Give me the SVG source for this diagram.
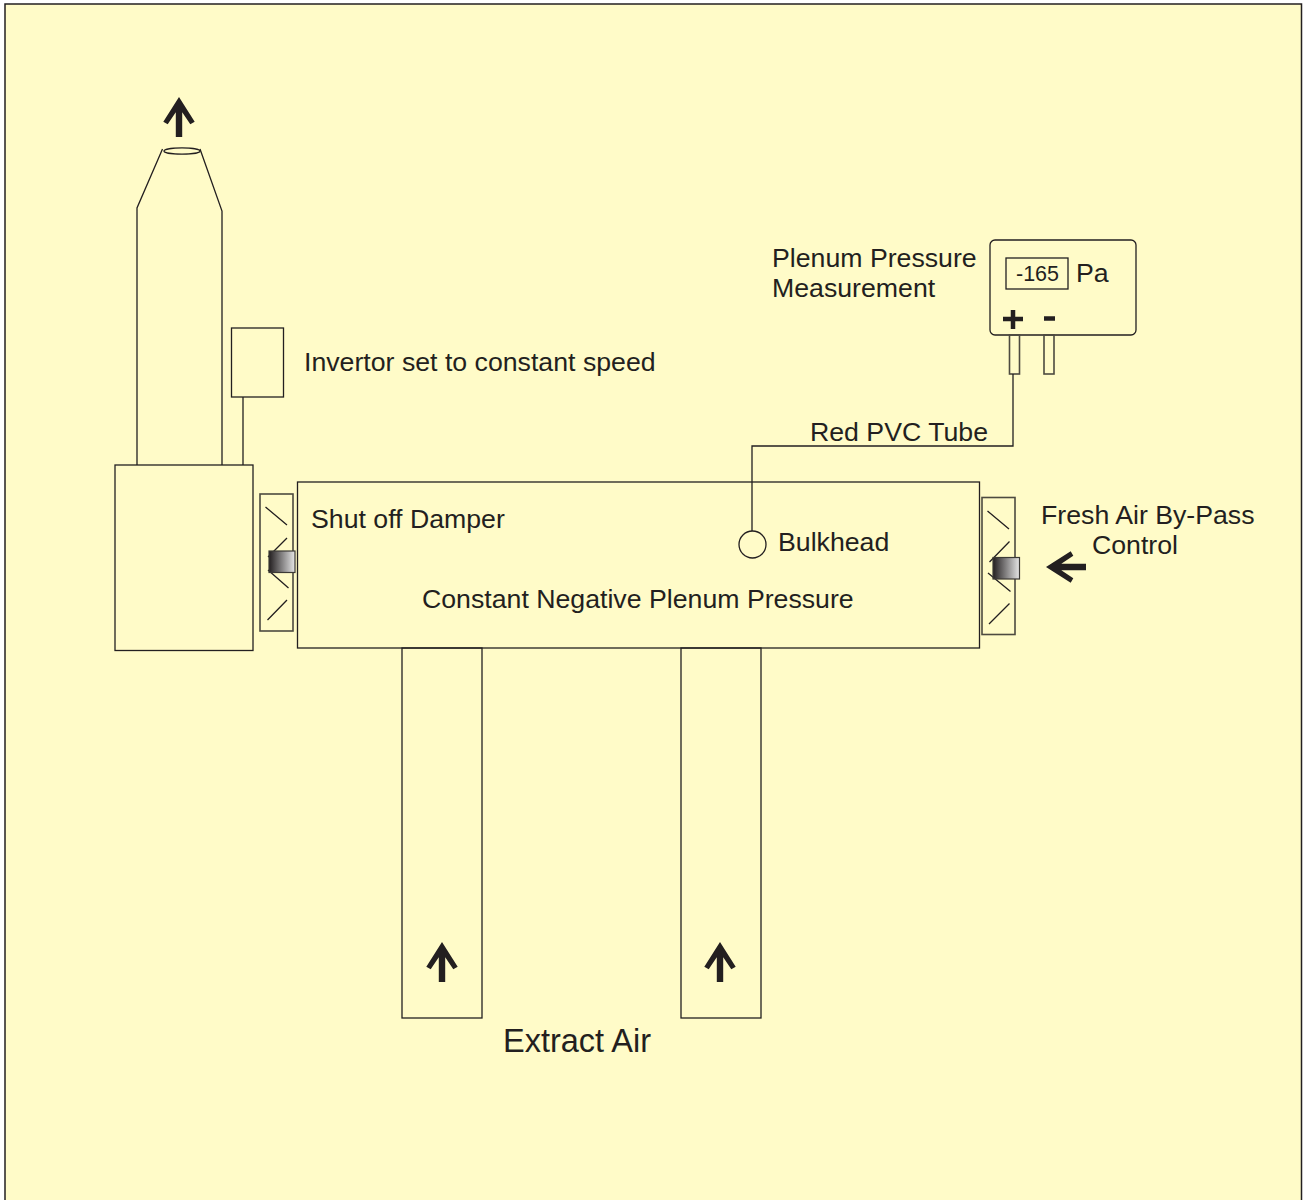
<svg xmlns="http://www.w3.org/2000/svg" width="1303" height="1200" viewBox="0 0 1303 1200">
<defs>
<linearGradient id="g" x1="0" x2="1" y1="0" y2="0"><stop offset="0" stop-color="#231f20"/><stop offset="1" stop-color="#e6e6e6"/></linearGradient>
<polygon id="arrow" points="0,-40 15.700,-15.300 11.300,-12.700 3.200,-24.700 3.200,0 -3.200,0 -3.200,-24.700 -11.300,-12.700 -15.700,-15.300" fill="#231f20"/>
</defs>
<style>
.l{fill:none;stroke:#231f20;stroke-width:1.3}
.k{fill:none;stroke:#4d4a40;stroke-width:1.6}
.knob{fill:url(#g);stroke:#3c3a36;stroke-width:1.2}
text{font-family:"Liberation Sans",Arial,sans-serif;font-size:26.7px;fill:#231f20}
</style>
<rect x="0" y="0" width="1303" height="1200" fill="#fff"/>
<rect id="frame" x="5" y="4" width="1296.500" height="1200" fill="#fffbc8" stroke="#231f20" stroke-width="1.500"/>
<g id="stack">
<path class="l" d="M137 465V208L162.500 149M200 149L222 211V465"/>
<ellipse class="l" cx="182" cy="151" rx="18" ry="3.200"/>
<use href="#arrow" x="179" y="137"/>
</g>
<g id="fan"><rect class="l" x="115" y="465" width="138" height="185.500"/></g>
<g id="invertor"><rect class="l" x="231.500" y="328" width="52" height="69"/><path class="l" d="M243 397V465"/>
<text x="304" y="371">Invertor set to constant speed</text></g>
<g id="shutoff-damper">
<rect class="k" x="260" y="494" width="33" height="137"/>
<path class="l" d="M265.500 507L287 525M287 538L268 557M268 570L288.500 588M287 600L267.500 620"/>
<rect class="knob" x="269" y="551" width="26" height="21.500"/>
<text x="311" y="528">Shut off Damper</text>
</g>
<g id="plenum">
<rect class="l" x="297.500" y="482" width="682" height="166"/>
<text x="422" y="608">Constant Negative Plenum Pressure</text>
</g>
<g id="bulkhead"><circle class="l" cx="752.500" cy="544.500" r="13.500"/><text x="778" y="551">Bulkhead</text></g>
<g id="fresh-air-damper">
<rect class="k" x="982" y="497.500" width="33" height="137"/>
<path class="l" d="M987.500 511L1009 529M1009.500 541.500L989.500 562M988 573L1010.500 591.500M1009.500 603.500L989 624"/>
<rect class="knob" x="993" y="557.500" width="26.500" height="21.500"/>
<text x="1041" y="524">Fresh Air By-Pass</text>
<text x="1092" y="554">Control</text>
<use href="#arrow" transform="translate(1086 567) rotate(-90)"/>
</g>
<g id="duct-1"><rect class="l" x="402" y="648" width="80" height="370"/><use href="#arrow" x="442" y="982"/></g>
<g id="duct-2"><rect class="l" x="681" y="648" width="80" height="370"/><use href="#arrow" x="720" y="982"/></g>
<g id="gauge">
<rect class="l" x="990" y="240" width="146" height="95" rx="5"/>
<rect class="l" x="1006" y="258" width="62" height="31"/>
<text x="1016" y="281" style="font-size:21.500px">-165</text>
<text x="1076" y="282">Pa</text>
<path d="M1003 319H1023M1013 310V329" fill="none" stroke="#231f20" stroke-width="4.500"/>
<path d="M1044 318.500H1055" fill="none" stroke="#231f20" stroke-width="4.500"/>
<rect class="k" x="1009.500" y="335" width="10" height="39"/>
<rect class="k" x="1044" y="335" width="10" height="39"/>
<text x="772" y="267">Plenum Pressure</text>
<text x="772" y="297">Measurement</text>
</g>
<g id="connectors"><path class="l" d="M1013 374V446H752V531"/></g>
<text id="tube-label" x="810" y="441">Red PVC Tube</text>
<text id="extract-label" x="503" y="1052" style="font-size:32.500px">Extract Air</text>
</svg>
